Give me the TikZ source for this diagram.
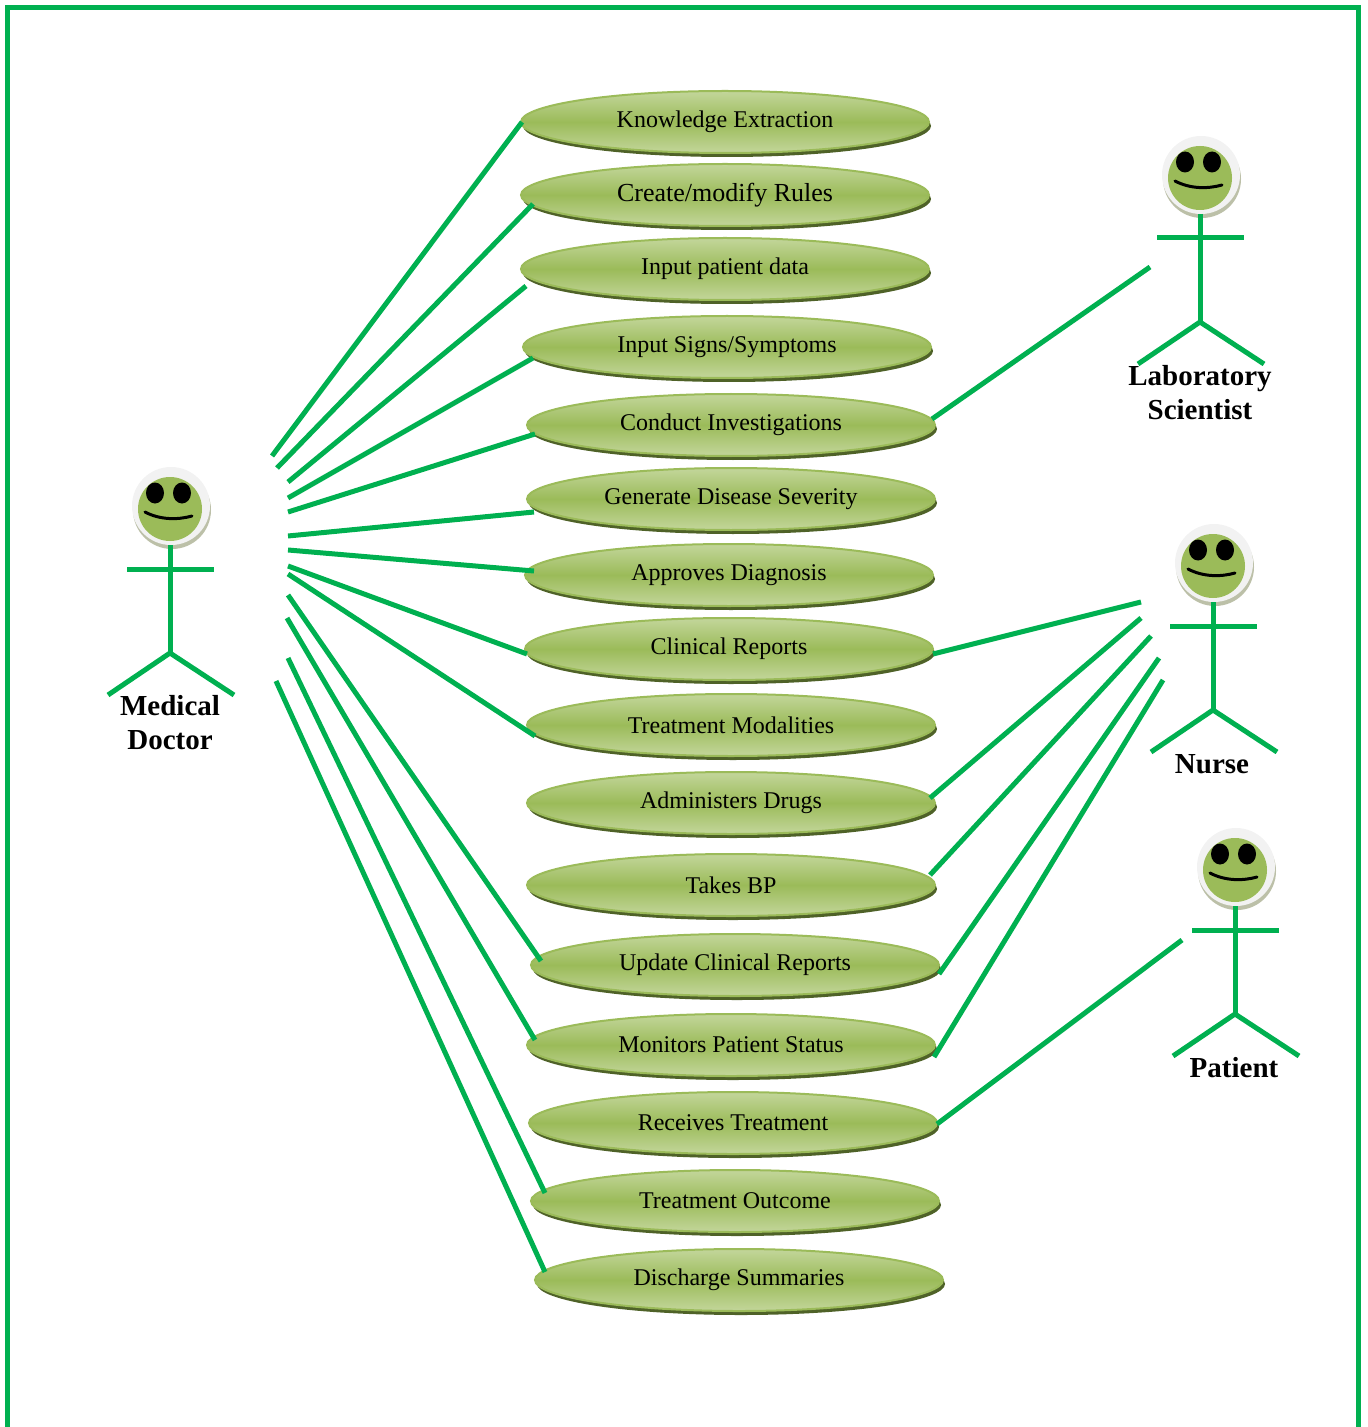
\documentclass[tikz,border=0pt]{standalone}
\usepackage{fontspec}
\setmainfont{Liberation Serif}
\usetikzlibrary{shapes.geometric,shadows}

\definecolor{linkgreen}{HTML}{00B050}
\definecolor{leaf}{HTML}{9BBB59}
\definecolor{leaflight}{HTML}{C3D69B}
\definecolor{leafdark}{HTML}{4F6228}
\definecolor{headrim}{HTML}{F2F2F2}
\definecolor{headshade}{HTML}{BCC0A8}

\tikzset{
  usecase/.style={ellipse, draw=leaf, line width=1pt, minimum width=204pt, minimum height=31pt,
    inner sep=0pt, top color=leaflight, bottom color=leaflight, middle color=leaf,
    general shadow={shadow xshift=1pt, shadow yshift=-2pt, fill=leafdark},
    font=\fontsize{12}{14}\selectfont},
  conn/.style={draw=linkgreen, line width=2.5pt},
  actorname/.style={align=center, font=\fontsize{14.5}{17}\selectfont\bfseries},
  stickman/.pic={
    % Head with its rim, eyes and smile
    \fill[headshade] (2,2) circle [radius=39];
    \node[circle, fill=headrim, inner sep=0pt, minimum size=39pt] (-head) at (1,-2) {};
    \fill[leaf] (0,1) circle [radius=32];
    \fill[black] (-15,-15) ellipse [x radius=9, y radius=10.5];
    \fill[black] (12,-15) ellipse [x radius=9, y radius=10.5];
    \draw[black, line width=1.5pt, line cap=round] (-25,4) .. controls (-10,12) and (8,12) .. (22,8);
    % Body
    \coordinate (-hip) at (0,145);
    \draw[conn] (0,37) -- (-hip);
    \draw[conn] (-43,61) -- (44,61);
    \draw[conn] (-62,187) -- (-hip) -- (64,187);
  }
}

\begin{document}
\begin{tikzpicture}[x=0.5pt,y=-0.5pt]
    \clip (0,0) rectangle (1368,1427);

    % Frame, its bottom edge runs off the page
    \draw[linkgreen, line width=2.5pt] (7.5,7.5) rectangle (1358.5,1429);

    % Middle column: the use cases
    \node[usecase] (extract)  at (725,122)  {Knowledge Extraction};
    \node[usecase, font=\fontsize{13}{15}\selectfont] (rules) at (725,195) {Create/modify Rules};
    \node[usecase] (patient)  at (725,269)  {Input patient data};
    \node[usecase] (signs)    at (727,347)  {Input Signs/Symptoms};
    \node[usecase] (invest)   at (731,425)  {Conduct Investigations};
    \node[usecase] (severity) at (731,499)  {Generate Disease Severity};
    \node[usecase] (diagnose) at (729,575)  {Approves Diagnosis};
    \node[usecase] (reports)  at (729,649)  {Clinical Reports};
    \node[usecase] (modal)    at (731,725)  {Treatment Modalities};
    \node[usecase] (drugs)    at (731,803)  {Administers Drugs};
    \node[usecase] (bp)       at (731,885)  {Takes BP};
    \node[usecase] (update)   at (735,965)  {Update Clinical Reports};
    \node[usecase] (monitor)  at (731,1045) {Monitors Patient Status};
    \node[usecase] (receive)  at (733,1123) {Receives Treatment};
    \node[usecase] (outcome)  at (735,1201) {Treatment Outcome};
    \node[usecase] (discharge) at (739,1280) {Discharge Summaries};

    % The four actors
    \pic (doc) at (170,508)  {stickman};
    \pic (lab) at (1200,177) {stickman};
    \pic (nur) at (1213,565) {stickman};
    \pic (pat) at (1235,869) {stickman};

    \node[actorname] (docname) at (170,723)  {Medical\\Doctor};
    \node[actorname] (labname) at (1200,393) {Laboratory\\Scientist};
    \node[actorname] (nurname) at (1212,764) {Nurse};
    \node[actorname] (patname) at (1234,1068) {Patient};

    % Free ends next to the actors
    \coordinate (docA) at (272,456);
    \coordinate (docB) at (277,468);
    \coordinate (docC) at (288,482);
    \coordinate (docD) at (288,498);
    \coordinate (docE) at (288,512);
    \coordinate (docF) at (288,536);
    \coordinate (docG) at (288,550);
    \coordinate (docH) at (288,566);
    \coordinate (docI) at (288,574);
    \coordinate (docJ) at (288,595);
    \coordinate (docK) at (287,618);
    \coordinate (docL) at (288,658);
    \coordinate (docM) at (276,681);
    \coordinate (labA) at (1150,267);
    \coordinate (nurA) at (1141,602);
    \coordinate (nurB) at (1141,618);
    \coordinate (nurC) at (1151,636);
    \coordinate (nurD) at (1159,658);
    \coordinate (nurE) at (1163,680);
    \coordinate (patA) at (1182,940);

    % Edges for the doctor
    \draw[conn] (docA) -- ([shift={(-203,0)}]extract.center);
    \draw[conn] (docB) -- ([shift={(-192,9)}]rules.center);
    \draw[conn] (docC) -- ([shift={(-199,17)}]patient.center);
    \draw[conn] (docD) -- ([shift={(-194,11)}]signs.center);
    \draw[conn] (docE) -- ([shift={(-196,9)}]invest.center);
    \draw[conn] (docF) -- ([shift={(-197,13)}]severity.center);
    \draw[conn] (docG) -- ([shift={(-195,-4)}]diagnose.center);
    \draw[conn] (docH) -- ([shift={(-202,5)}]reports.center);
    \draw[conn] (docI) -- ([shift={(-196,11)}]modal.center);
    \draw[conn] (docJ) -- ([shift={(-194,-4)}]update.center);
    \draw[conn] (docK) -- ([shift={(-196,-5)}]monitor.center);
    \draw[conn] (docL) -- ([shift={(-190,-8)}]outcome.center);
    \draw[conn] (docM) -- ([shift={(-194,-8)}]discharge.center);

    % Edges for the other actors
    \draw[conn] (labA) -- ([shift={(201,-6)}]invest.center);
    \draw[conn] (nurA) -- ([shift={(204,5)}]reports.center);
    \draw[conn] (nurB) -- ([shift={(199,-5)}]drugs.center);
    \draw[conn] (nurC) -- ([shift={(199,-10)}]bp.center);
    \draw[conn] (nurD) -- ([shift={(204,9)}]update.center);
    \draw[conn] (nurE) -- ([shift={(203,12)}]monitor.center);
    \draw[conn] (patA) -- ([shift={(204,1)}]receive.center);
\end{tikzpicture}
\end{document}
